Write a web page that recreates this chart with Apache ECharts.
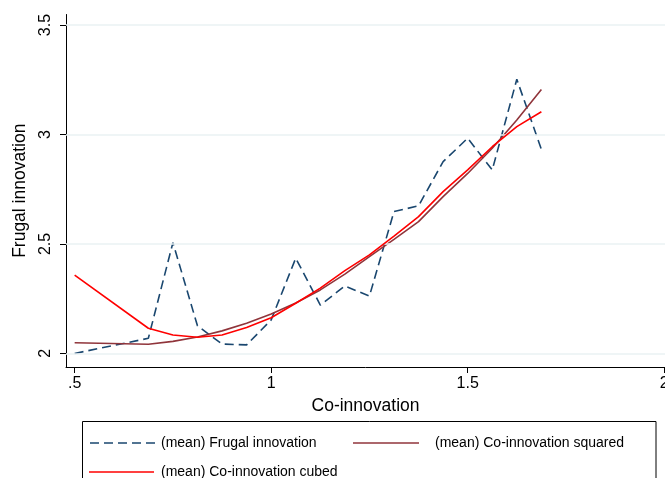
<!DOCTYPE html>
<html><head><meta charset="utf-8">
<script src="https://cdn.jsdelivr.net/npm/echarts@6/dist/echarts.min.js"></script>
<style>html,body{margin:0;padding:0;background:#fff}#c{width:665px;height:478px}</style>
</head><body><div id="c"></div>
<script>
const coInnovation = [0.5, 0.6875, 0.75, 0.8125, 0.875, 0.9375, 1.0, 1.0625, 1.125, 1.1875, 1.25, 1.3125, 1.375, 1.4375, 1.5, 1.5625, 1.625, 1.6875];
const frugalMean = [2.0, 2.069, 2.506, 2.126, 2.043, 2.039, 2.153, 2.435, 2.221, 2.308, 2.262, 2.648, 2.674, 2.876, 2.983, 2.838, 3.252, 2.932];
const squaredFit = [2.049, 2.042, 2.055, 2.075, 2.103, 2.138, 2.18, 2.23, 2.29, 2.362, 2.442, 2.521, 2.602, 2.716, 2.822, 2.937, 3.066, 3.206];
const cubedFit = [2.358, 2.115, 2.084, 2.074, 2.084, 2.118, 2.163, 2.229, 2.298, 2.378, 2.45, 2.536, 2.625, 2.739, 2.838, 2.944, 3.036, 3.104];
const xTicks = [0.5, 1, 1.5, 2];
const yTicks = [2, 2.5, 3, 3.5];
const seriesNames = ['(mean) Frugal innovation', '(mean) Co-innovation squared', '(mean) Co-innovation cubed'];

const FONT = 'Liberation Sans, Arial, sans-serif';
const pair = (ys) => coInnovation.map((x, i) => [x, ys[i]]);
const fmt = v => (v < 1 ? String(v).replace(/^0/, '') : String(v));

const chart = echarts.init(document.getElementById('c'), null, {renderer: 'canvas'});
chart.setOption({
  animation: false,
  backgroundColor: '#fff',
  grid: {left: 66, right: 0, top: 14.5, bottom: 111, containLabel: false, outerBoundsMode: 'none'},
  xAxis: {
    type: 'value', min: 0.478, max: 2.002,
    name: 'Co-innovation', nameLocation: 'middle', nameGap: 26.5,
    nameTextStyle: {fontFamily: FONT, fontSize: 17.5, color: '#000'},
    axisLine: {show: true, lineStyle: {color: '#000', width: 1}},
    axisTick: {show: true, length: 6, customValues: xTicks, lineStyle: {color: '#000'}},
    axisLabel: {customValues: xTicks, formatter: fmt, margin: 9, fontFamily: FONT, fontSize: 16, color: '#000'},
    splitLine: {show: false}
  },
  yAxis: {
    type: 'value', min: 1.938, max: 3.548,
    name: 'Frugal innovation', nameLocation: 'middle', nameGap: 37,
    nameTextStyle: {fontFamily: FONT, fontSize: 17.5, color: '#000'},
    axisLine: {show: true, lineStyle: {color: '#000', width: 1}},
    axisTick: {show: true, length: 6, customValues: yTicks, lineStyle: {color: '#000'}},
    axisLabel: {customValues: yTicks, formatter: fmt, rotate: 90, margin: 12, fontFamily: FONT, fontSize: 16, color: '#000'},
    splitLine: {show: false}
  },
  series: [
    {
      type: 'line', name: 'grid', data: [], z: 1, silent: true,
      markLine: {
        silent: true, symbol: 'none', label: {show: false},
        lineStyle: {color: '#eaf2f3', width: 1.5, type: 'solid'},
        data: yTicks.map(v => ({yAxis: v}))
      }
    },
    {
      type: 'line', name: seriesNames[0], data: pair(frugalMean), showSymbol: false, z: 3,
      lineStyle: {color: '#1a476f', width: 1.6, type: [9, 5]}
    },
    {
      type: 'line', name: seriesNames[1], data: pair(squaredFit), showSymbol: false, z: 4,
      lineStyle: {color: '#90353b', width: 1.6}
    },
    {
      type: 'line', name: seriesNames[2], data: pair(cubedFit), showSymbol: false, z: 5,
      lineStyle: {color: '#ff0000', width: 1.6}
    }
  ],
  graphic: [
    {type: 'rect', shape: {x: 82.5, y: 421.5, width: 573.5, height: 80}, style: {fill: '#fff', stroke: '#000', lineWidth: 1}},
    {type: 'line', shape: {x1: 90, y1: 443, x2: 155, y2: 443}, style: {stroke: '#1a476f', lineWidth: 1.6, lineDash: [9, 5]}},
    {type: 'text', x: 161, y: 443, style: {text: seriesNames[0], fontFamily: FONT, fontSize: 14, fill: '#000', textVerticalAlign: 'middle'}},
    {type: 'line', shape: {x1: 353, y1: 443, x2: 419, y2: 443}, style: {stroke: '#90353b', lineWidth: 1.6}},
    {type: 'text', x: 435, y: 443, style: {text: seriesNames[1], fontFamily: FONT, fontSize: 14, fill: '#000', textVerticalAlign: 'middle'}},
    {type: 'line', shape: {x1: 89, y1: 472, x2: 154, y2: 472}, style: {stroke: '#ff0000', lineWidth: 1.6}},
    {type: 'text', x: 161, y: 472, style: {text: seriesNames[2], fontFamily: FONT, fontSize: 14, fill: '#000', textVerticalAlign: 'middle'}}
  ]
});
</script></body></html>
